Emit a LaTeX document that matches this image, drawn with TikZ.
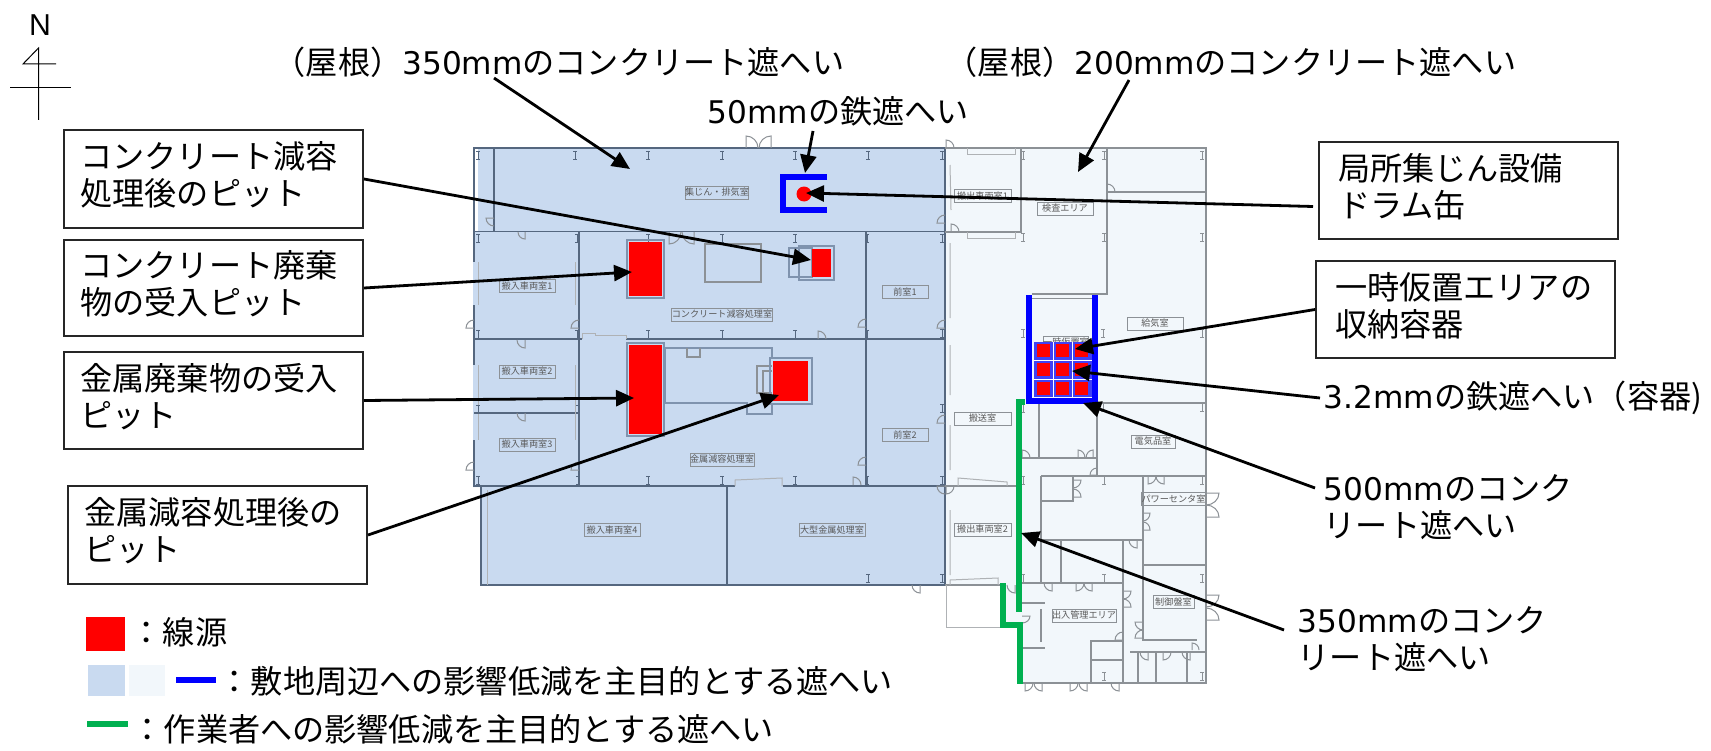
\documentclass[tikz,border=0pt]{standalone}
\usepackage{fontspec}
\setmainfont{Noto Sans CJK JP}
\newfontfamily\latn[Scale=0.97]{DejaVu Sans}
\newfontfamily\northfont{Liberation Sans}
\usetikzlibrary{arrows.meta}

\definecolor{areablue}{HTML}{C9DAF0}
\definecolor{arealight}{HTML}{F2F7FB}
\definecolor{walldark}{HTML}{55677F}
\definecolor{walllight}{HTML}{8C9196}
\definecolor{pitedge}{HTML}{7F93AE}
\definecolor{shieldblue}{HTML}{0000FF}
\definecolor{cellblue}{HTML}{4040F5}
\definecolor{shieldgreen}{HTML}{00B050}

\tikzset{
    wall/.style={draw=walldark, line width=0.18mm},
    walll/.style={draw=walllight, line width=0.18mm},
    faint/.style={draw=walllight!70, line width=0.1mm},
    door/.style={draw=walllight, line width=0.1mm},
    pit/.style={draw=pitedge, line width=0.25mm},
    room/.style={draw=walllight, line width=0.1mm, text=black!65, inner sep=0pt,
        minimum height=1.3mm, font=\fontsize{2.6}{3}\selectfont},
    callout/.style={-{Triangle[length=1.8mm,width=1.6mm]}, line width=0.28mm},
    labelbox/.style={draw=black!85, line width=0.2mm, fill=white, anchor=north west,
        align=left, text width=26.1mm, inner xsep=1.9mm, inner ysep=0pt,
        execute at end node={\par\vspace*{0.8mm}},
        font=\fontsize{9.15}{10.6}\selectfont},
    leftbox/.style={labelbox, text width=26.6mm, inner xsep=1.65mm},
    plain/.style={anchor=west, align=left, inner sep=0pt,
        font=\fontsize{9.15}{10.6}\selectfont},
}

\begin{document}
\begin{tikzpicture}[x=0.1mm, y=-0.1mm]
\useasboundingbox (0, 0) rectangle (1711, 750);

% north mark
\node[font=\fontsize{8.6}{10}\northfont, inner sep=0pt] (north) at (40, 25) {N};
\draw[line width=0.1mm] (38.5, 120) -- (38.5, 48) -- (23, 64) -- (56, 64);
\draw[line width=0.1mm] (10, 88) -- (71, 88);

% floor areas
\fill[areablue] (473, 148) -- (945, 148) -- (945, 585) -- (480, 585)
    -- (480, 487) -- (473, 487) -- cycle;
\fill[arealight] (945, 148) -- (1206, 148) -- (1206, 683) -- (1019, 683)
    -- (1019, 625) -- (1003, 625) -- (1003, 585) -- (945, 585) -- cycle;
\fill[white] (474.5, 149) rectangle (477.5, 231);

% walls, left part
\draw[wall] (473, 148) -- (945, 148);
\draw[wall] (474, 148) -- (474, 231) (494, 148) -- (494, 231);
\draw[wall] (474, 231.5) -- (945, 231.5);
\draw[wall] (579, 232) -- (579, 486) (866, 232) -- (866, 486);
\draw[wall] (474, 339) -- (582, 339) (626, 339) -- (945, 339);
\draw[wall] (474, 413) -- (579, 413);
\draw[wall] (474, 486) -- (735, 486) (783, 486) -- (945, 486);
\draw[wall] (474, 231) -- (474, 262) (474, 305) -- (474, 365) (474, 440) -- (474, 487);
\draw[wall] (481, 486) -- (481, 585) -- (945, 585);
\draw[wall] (727, 486) -- (727, 585);
\draw[wall] (945, 148) -- (945, 585);
\draw[faint] (478, 262) -- (478, 305) (478, 365) -- (478, 440)
    (575, 262) -- (575, 305) (575, 365) -- (575, 440) (487, 490) -- (487, 585);
\draw[faint] (582, 339) -- (582, 333) -- (595, 333) -- (595, 335) -- (626, 335) -- (626, 339);
\draw[faint] (735, 486) -- (735, 480) -- (782, 478) -- (782, 486);

% walls, right part
\draw[walll] (945, 148) -- (1206, 148) -- (1206, 683) -- (1020, 683);
\draw[walll] (1021, 148) -- (1021, 232) -- (945, 232);
\draw[walll] (1107, 148) -- (1107, 294) -- (1032, 294);
\draw[walll] (1032, 298.5) -- (1092, 298.5);
\draw[walll] (1107, 192) -- (1206, 192);
\draw[walll] (1097, 403) -- (1206, 403);
\draw[walll] (1039, 404) -- (1039, 458) (1097, 404) -- (1097, 476);
\draw[walll] (1022, 458) -- (1097, 458);
\draw[walll] (1041, 476) -- (1206, 476);
\draw[walll] (1041, 476) -- (1041, 583) (1041, 609) -- (1041, 642);
\draw[walll] (1073, 476) -- (1073, 501) -- (1041, 501);
\draw[walll] (1041, 540) -- (1143, 540);
\draw[walll] (1143, 476) -- (1143, 640) -- (1197, 640);
\draw[walll] (1061, 540) -- (1061, 583);
\draw[walll] (1022, 583) -- (1123, 583);
\draw[walll] (1123, 540) -- (1123, 683);
\draw[walll] (1143, 565) -- (1206, 565);
\draw[walll] (1022, 603) -- (1045, 603) (1022, 648) -- (1045, 648);
\draw[walll] (1091, 683) -- (1091, 641) -- (1123, 641) (1091, 660) -- (1123, 660);
\draw[walll] (1130, 652) -- (1206, 652);
\draw[walll] (1138, 652) -- (1138, 683) (1156, 652) -- (1156, 683) (1187, 652) -- (1187, 683);
\draw[walll] (945, 486) -- (1017, 486) (945, 585) -- (1003, 585);
\draw[faint] (946, 585) -- (946, 627) -- (1001, 627);
\draw[faint] (950, 165) -- (951, 210) (950, 243) -- (950, 318) (950, 345) -- (950, 395)
    (950, 425) -- (950, 470) (950, 510) -- (950, 575);
\draw[faint] (967, 148) -- (967, 155) -- (1015, 155) -- (1015, 148)
    (967, 232) -- (967, 238) -- (1015, 238) -- (1015, 232);
\draw[faint] (958, 486) -- (958, 478) -- (1007, 482) -- (1007, 486);
\draw[faint] (950, 585) -- (950, 580) -- (998, 578) -- (998, 585);

% columns
\foreach \x/\y in {478/155, 575/155, 648/155, 722/155, 795/155, 868/155, 942/155,
    478/238, 577/238, 648/238, 722/238, 795/238, 867/238, 942/238,
    478/334, 577/334, 648/334, 722/334, 795/334, 867/334, 942/333,
    478/409, 578/409, 942/408, 478/480, 578/480, 648/480, 722/480, 795/480, 867/480, 942/480,
    868/578, 942/578}
    \draw[wall, line width=0.09mm] (\x-2, \y-4) -- (\x+2, \y-4) (\x, \y-4) -- (\x, \y+4)
        (\x-2, \y+4) -- (\x+2, \y+4);
\foreach \x/\y in {1023/155, 1023/237, 1023/333, 1023/408, 1023/480, 1023/578,
    1104/155, 1104/237, 1103/333, 1103/407, 1104/480, 1104/578, 1104/676,
    1202/155, 1202/237, 1202/333, 1202/407, 1202/480, 1202/578, 1202/676}
    \draw[walll, line width=0.09mm] (\x-2, \y-4) -- (\x+2, \y-4) (\x, \y-4) -- (\x, \y+4)
        (\x-2, \y+4) -- (\x+2, \y+4);

% doors
\foreach \x/\y/\a/\b/\c/\d in {494/218/-8/0/0/8, 525/232/0/7/-7/0, 474/328/-8/0/0/-8,
    579/328/-8/0/0/-8, 746/148/0/-12/12/0, 771/148/0/-12/-12/0, 669/232/0/12/12/0,
    694/232/0/12/-12/0, 818/339/0/-8/8/0, 866/327/-8/0/0/-8, 525/340/0/8/-8/0,
    525/413/0/8/-8/0, 474/470/-8/0/0/-8, 579/470/-8/0/0/-8, 853/485/0/-8/8/0,
    866/465/-8/0/0/-8, 946/148/0/-8/8/0, 945/223/-8/0/0/-8, 951/232/0/-8/8/0,
    945/328/-8/0/0/-8, 1107/192/0/-8/8/0, 945/423/-8/0/0/-8, 945/486/-8/0/0/8,
    946/486/0/8/8/0, 920/585/0/8/-8/0, 1015/585/0/8/-8/0, 1022/458/0/-8/8/0,
    1078/458/0/-8/7/0, 1093/458/0/-8/-7/0, 1097/475/-7/0/0/-7, 1073/480/8/0/0/8,
    1073/497/8/0/0/-8, 1052/583/0/8/-8/0, 1076/583/0/8/8/0, 1092/583/0/8/-8/0,
    1148/476/0/8/8/0, 1164/476/0/8/-8/0, 1143/513/7/0/0/8, 1143/530/7/0/0/-8,
    1137/540/0/8/-8/0, 1123/591/8/0/0/8, 1123/607/8/0/0/-8, 1143/622/-8/0/0/8,
    1143/638/-8/0/0/-8, 1206/493/13/0/0/12, 1206/517/13/0/0/-12, 1206/595/13/0/0/12,
    1206/620/13/0/0/-12, 1123/640/-8/0/0/-8, 1022/616/8/0/0/7, 1025/683/0/8/8/0,
    1042/683/0/8/-8/0, 1070/683/0/8/8/0, 1087/683/0/8/-8/0, 1119/683/0/8/-8/0,
    1148/652/0/8/-8/0, 1163/652/0/8/8/0, 1190/652/0/8/-8/0, 1192/650/0/-7/7/0}
    \draw[door] (\x, \y) -- (\x+\a, \y+\b) .. controls (\x+\a+.55*\c, \y+\b+.55*\d)
        and (\x+\c+.55*\a, \y+\d+.55*\b) .. (\x+\c, \y+\d);

% room names
\node[room, minimum width=5.6mm] (roomdust) at (717, 192.5) {集じん・排気室};
\node[room, minimum width=9.2mm] (roomcrete) at (722, 314.5) {コンクリート減容処理室};
\node[room, minimum width=5.6mm] (roomin1) at (527, 286) {搬入車両室1};
\node[room, minimum width=5.6mm] (roomin2) at (527, 371.5) {搬入車両室2};
\node[room, minimum width=5.6mm] (roomin3) at (527, 444.5) {搬入車両室3};
\node[room, minimum width=5.6mm] (roomin4) at (612, 530) {搬入車両室4};
\node[room, minimum width=6.4mm] (roommetal) at (722, 459.5) {金属減容処理室};
\node[room, minimum width=6.6mm] (roomlarge) at (832, 530) {大型金属処理室};
\node[room, minimum width=4.6mm] (roomfront1) at (905, 292) {前室1};
\node[room, minimum width=4.6mm] (roomfront2) at (905, 434.5) {前室2};
\node[room, minimum width=5.7mm] (roomout1) at (982.5, 196) {搬出車両室1};
\node[room, minimum width=5.6mm] (roomcheck) at (1065, 208.5) {検査エリア};
\node[room, minimum width=5.7mm] (roomcarry) at (982.5, 418.5) {搬送室};
\node[room, minimum width=5.7mm] (roomout2) at (982.5, 529.5) {搬出車両室2};
\node[room, minimum width=4.2mm] (roomtemp) at (1066, 342.5) {一時仮置室};
\node[room, minimum width=5.6mm] (roomair) at (1155, 323.5) {給気室};
\node[room, minimum width=4.4mm] (roomelec) at (1153, 441.5) {電気品室};
\node[room, minimum width=5.9mm] (roompower) at (1173.5, 499) {パワーセンタ室};
\node[room, minimum width=4.1mm] (roomctrl) at (1173.5, 602) {制御盤室};
\node[room, minimum width=6.4mm] (roomgate) at (1084, 615.5) {出入管理エリア};

% pits
\draw[pit] (627, 240) rectangle (664, 298);
\fill[red] (629, 242) rectangle (662, 296);
\draw[walll] (705, 244) rectangle (761, 282);
\draw[walll, line width=0.2mm, draw=pitedge] (789, 248) rectangle (812, 277);
\draw[pit] (799, 246) rectangle (834, 280);
\fill[red] (812, 249) rectangle (831, 277);
\draw[pit] (627, 343) rectangle (664, 436);
\fill[red] (629, 345) rectangle (662, 434);
\draw[pit] (665, 403) -- (665, 348) -- (772, 348) -- (772, 358);
\draw[pit] (665, 403) -- (747, 403) -- (747, 414) -- (772, 414) -- (772, 404);
\draw[walll] (687, 348) -- (687, 357) -- (700, 357) -- (700, 348);
\draw[walll] (772, 366) -- (757, 366) -- (757, 393) -- (772, 393);
\draw[walll] (772, 371) -- (763, 371) -- (763, 392);
\draw[pit] (770, 358) rectangle (812, 404);
\fill[red] (773, 361) rectangle (808, 401);

% drum
\draw[shieldblue, line width=0.6mm] (827, 177) -- (783, 177) -- (783, 210) -- (827, 210);
\fill[red] (804, 194) circle (7.5);

% containers
\fill[cellblue] (1034, 342) rectangle (1092, 397);
\draw[white, line width=0.1mm] (1053, 342) -- (1053, 397) (1072, 342) -- (1072, 397)
    (1034, 360) -- (1092, 360) (1034, 379) -- (1092, 379);
\foreach \x in {1037, 1056, 1075}
    \foreach \y in {344, 363, 382}
        \fill[red] (\x, \y) rectangle (\x+13, \y+13);
\draw[shieldblue, line width=0.6mm] (1029, 295) -- (1029, 401) -- (1094.5, 401) -- (1094.5, 295);

% green shields
\draw[shieldgreen, line width=0.6mm] (1025, 402) -- (1019, 402) -- (1019, 612);
\draw[shieldgreen, line width=0.6mm] (1003, 583) -- (1003, 625) -- (1020, 625) -- (1020, 684);

% labels
\node[leftbox, minimum width=29.9mm, minimum height=9.8mm] (pitcrete) at (63, 129)
    {コンクリート減容\\処理後のピット};
\node[leftbox, minimum width=29.9mm, minimum height=9.6mm] (pitcretein) at (63, 239)
    {コンクリート廃棄\\物の受入ピット};
\node[leftbox, minimum width=29.9mm, minimum height=9.7mm] (pitmetalin) at (63, 351)
    {金属廃棄物の受入\\ピット};
\node[leftbox, minimum width=29.9mm, minimum height=9.8mm] (pitmetal) at (67, 485)
    {金属減容処理後の\\ピット};
\node[labelbox, minimum width=29.9mm, minimum height=9.7mm] (drumbox) at (1318, 141)
    {局所集じん設備\\ドラム缶};
\node[labelbox, minimum width=29.9mm, minimum height=9.7mm] (storebox) at (1315, 260)
    {一時仮置エリアの\\収納容器};
\node[plain] (roofa) at (273, 62) {（屋根）{\latn 350mm}のコンクリート遮へい};
\node[plain] (roofb) at (945, 62) {（屋根）{\latn 200mm}のコンクリート遮へい};
\node[plain] (iron) at (707, 111) {{\latn 50mm}の鉄遮へい};
\node[plain] (vessel) at (1323, 398) {{\latn 3.2mm}の鉄遮へい（容器)};
\node[plain] (wallb) at (1323, 507) {{\latn 500mm}のコンク\\リート遮へい};
\node[plain] (walla) at (1297, 639) {{\latn 350mm}のコンク\\リート遮へい};

% callouts
\coordinate (roofatail) at (494, 78);
\coordinate (roofatip) at (630, 169);
\coordinate (roofbtail) at (1129, 80);
\coordinate (roofbtip) at (1078, 172);
\coordinate (irontail) at (813, 131);
\coordinate (irontip) at (805, 173);
\coordinate (drumtip) at (806, 193);
\coordinate (pitcretetip) at (811, 260);
\coordinate (pitcreteintip) at (632, 272);
\coordinate (pitmetalintip) at (634, 398);
\coordinate (pitmetaltip) at (779, 395);
\coordinate (storetip) at (1075, 349);
\coordinate (vesseltail) at (1320, 398);
\coordinate (vesseltip) at (1072, 371);
\coordinate (wallbtail) at (1315, 488);
\coordinate (wallbtip) at (1083, 403);
\coordinate (wallatail) at (1284, 630);
\coordinate (wallatip) at (1021, 533);
\draw[callout] (roofatail) -- (roofatip);
\draw[callout] (roofbtail) -- (roofbtip);
\draw[callout] (irontail) -- (irontip);
\draw[callout] ([xshift=-0.5mm, yshift=-1.6mm]drumbox.west) -- (drumtip);
\draw[callout] (pitcrete.east) -- (pitcretetip);
\draw[callout] (pitcretein.east) -- (pitcreteintip);
\draw[callout] (pitmetalin.east) -- (pitmetalintip);
\draw[callout] (pitmetal.east) -- (pitmetaltip);
\draw[callout] (storebox.west) -- (storetip);
\draw[callout] (vesseltail) -- (vesseltip);
\draw[callout] (wallbtail) -- (wallbtip);
\draw[callout] (wallatail) -- (wallatip);

% legend
\fill[red] (86, 617) rectangle (125, 651);
\fill[areablue] (88, 665) rectangle (125, 696);
\fill[arealight] (129, 665) rectangle (165, 696);
\draw[shieldblue, line width=0.6mm] (176, 680) -- (216, 680);
\draw[shieldgreen, line width=0.6mm] (87, 724) -- (128, 724);
\node[plain] (keysource) at (130, 632) {：線源};
\node[plain] (keysite) at (218, 681) {：敷地周辺への影響低減を主目的とする遮へい};
\node[plain] (keywork) at (131, 729) {：作業者への影響低減を主目的とする遮へい};

\end{tikzpicture}
\end{document}
